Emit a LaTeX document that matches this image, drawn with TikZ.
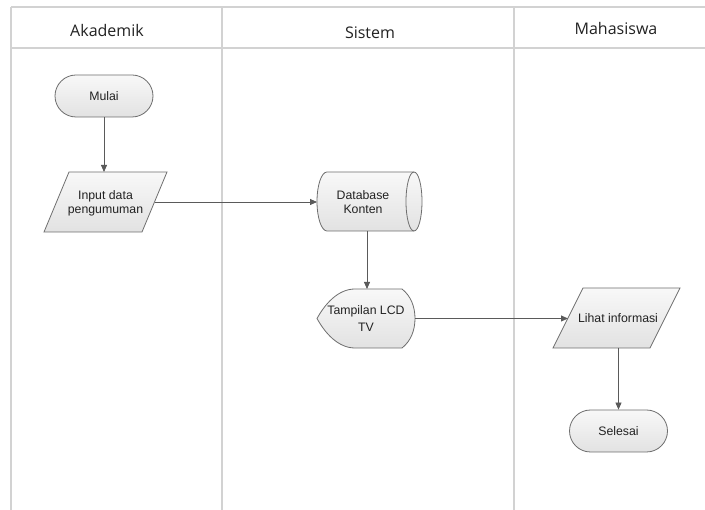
\documentclass[tikz,border=0pt]{standalone}
\usepackage{fontspec}
\setmainfont{Liberation Sans}
\newfontfamily\hdrfont{Open Sans}
\usetikzlibrary{arrows.meta}
\definecolor{lane}{HTML}{D2D2D2}
\definecolor{edge}{HTML}{6E6E6E}
\definecolor{conn}{HTML}{5A5A5A}
\definecolor{fillTop}{HTML}{F8F8F8}
\definecolor{fillBot}{HTML}{E2E2E2}
\definecolor{ink}{HTML}{222222}
\begin{document}
\begin{tikzpicture}[x=1pt,y=-1pt,
  lanes/.style={draw=lane,line width=1.2pt},
  shapebox/.style={draw=edge,line width=0.8pt,top color=fillTop,bottom color=fillBot},
  anchorbox/.style={draw=none,inner sep=0pt,outer sep=0pt},
  txt/.style={font=\fontsize{12.3}{13.8}\selectfont,align=center,text=ink,inner sep=0pt},
  header/.style={font=\hdrfont\fontsize{16}{18}\selectfont,anchor=base,text=ink,inner sep=0pt},
  flow/.style={draw=conn,line width=0.8pt,-{Triangle[length=7pt,width=6pt]}},
  term/.style={shapebox,rounded corners=21pt,minimum width=98pt,minimum height=42pt,inner sep=0pt,
    font=\fontsize{12.3}{13.8}\selectfont,text=ink},
]
\useasboundingbox (0,0) rectangle (705,510);
\fill[white] (0,0) rectangle (705,510);

% swimlanes
\draw[lanes] (11,7) -- (705,7);
\draw[lanes] (11,48) -- (705,48);
\draw[lanes] (11,7) -- (11,510);
\draw[lanes] (222,7) -- (222,510);
\draw[lanes] (514,7) -- (514,510);

\node[header] (hAk) at (107,37) {Akademik};
\node[header] (hSi) at (370,39) {Sistem};
\node[header] (hMa) at (616,35) {Mahasiswa};

% Mulai
\node[term] (mulai) at (104,96) {Mulai};

% Input data pengumuman
\path[shapebox] (69,172) -- (167,172) -- (142,232) -- (44,232) -- cycle;
\node[anchorbox,minimum width=98pt,minimum height=60pt] (inputS) at (105.5,202) {};
\node[txt] (inputT) at (105.5,203.5) {Input data\\pengumuman};

% Database Konten
\path[shapebox] (327,172) -- (414,172)
  arc[start angle=-90,end angle=90,x radius=8,y radius=29.5] -- (327,231)
  arc[start angle=90,end angle=270,x radius=10,y radius=29.5] -- cycle;
\draw[draw=edge,line width=0.8pt] (414,172) arc[start angle=-90,end angle=-270,x radius=8,y radius=29.5];
\node[anchorbox,minimum width=100pt,minimum height=59pt] (dbS) at (367,201.5) {};
\node[txt] (dbT) at (363,202) {Database\\Konten};

% Tampilan LCD TV (display)
\path[shapebox] (355,289) -- (402,289)
  .. controls (411,296) and (415,307) .. (415,318.5)
  .. controls (415,330) and (411,341) .. (402,348) -- (355,348)
  .. controls (338,348) and (325,333) .. (317,318.5)
  .. controls (325,304) and (338,289) .. (355,289) -- cycle;
\node[anchorbox,minimum width=98pt,minimum height=59pt] (dispS) at (366,318.5) {};
\node[txt,font=\fontsize{12.3}{16.5}\selectfont] (dispT) at (366,318.5) {Tampilan LCD\\TV};

% Lihat informasi
\path[shapebox] (583,288) -- (680,288) -- (650,348) -- (553,348) -- cycle;
\node[anchorbox,minimum width=97pt,minimum height=60pt] (lihatS) at (616.5,318) {};
\node[txt] (lihatT) at (618,318) {Lihat informasi};

% Selesai
\node[term] (selesai) at (618.5,431) {Selesai};

% connectors
\draw[flow] (mulai.south) -- (mulai.south |- inputS.north);
\draw[flow] (inputS.east) -- (inputS.east -| dbS.west);
\draw[flow] (dbS.south) -- (dbS.south |- dispS.north);
\draw[flow] (dispS.east) -- (dispS.east -| lihatS.west);
\draw[flow] (selesai.north |- lihatS.south) -- (selesai.north);
\end{tikzpicture}
\end{document}
